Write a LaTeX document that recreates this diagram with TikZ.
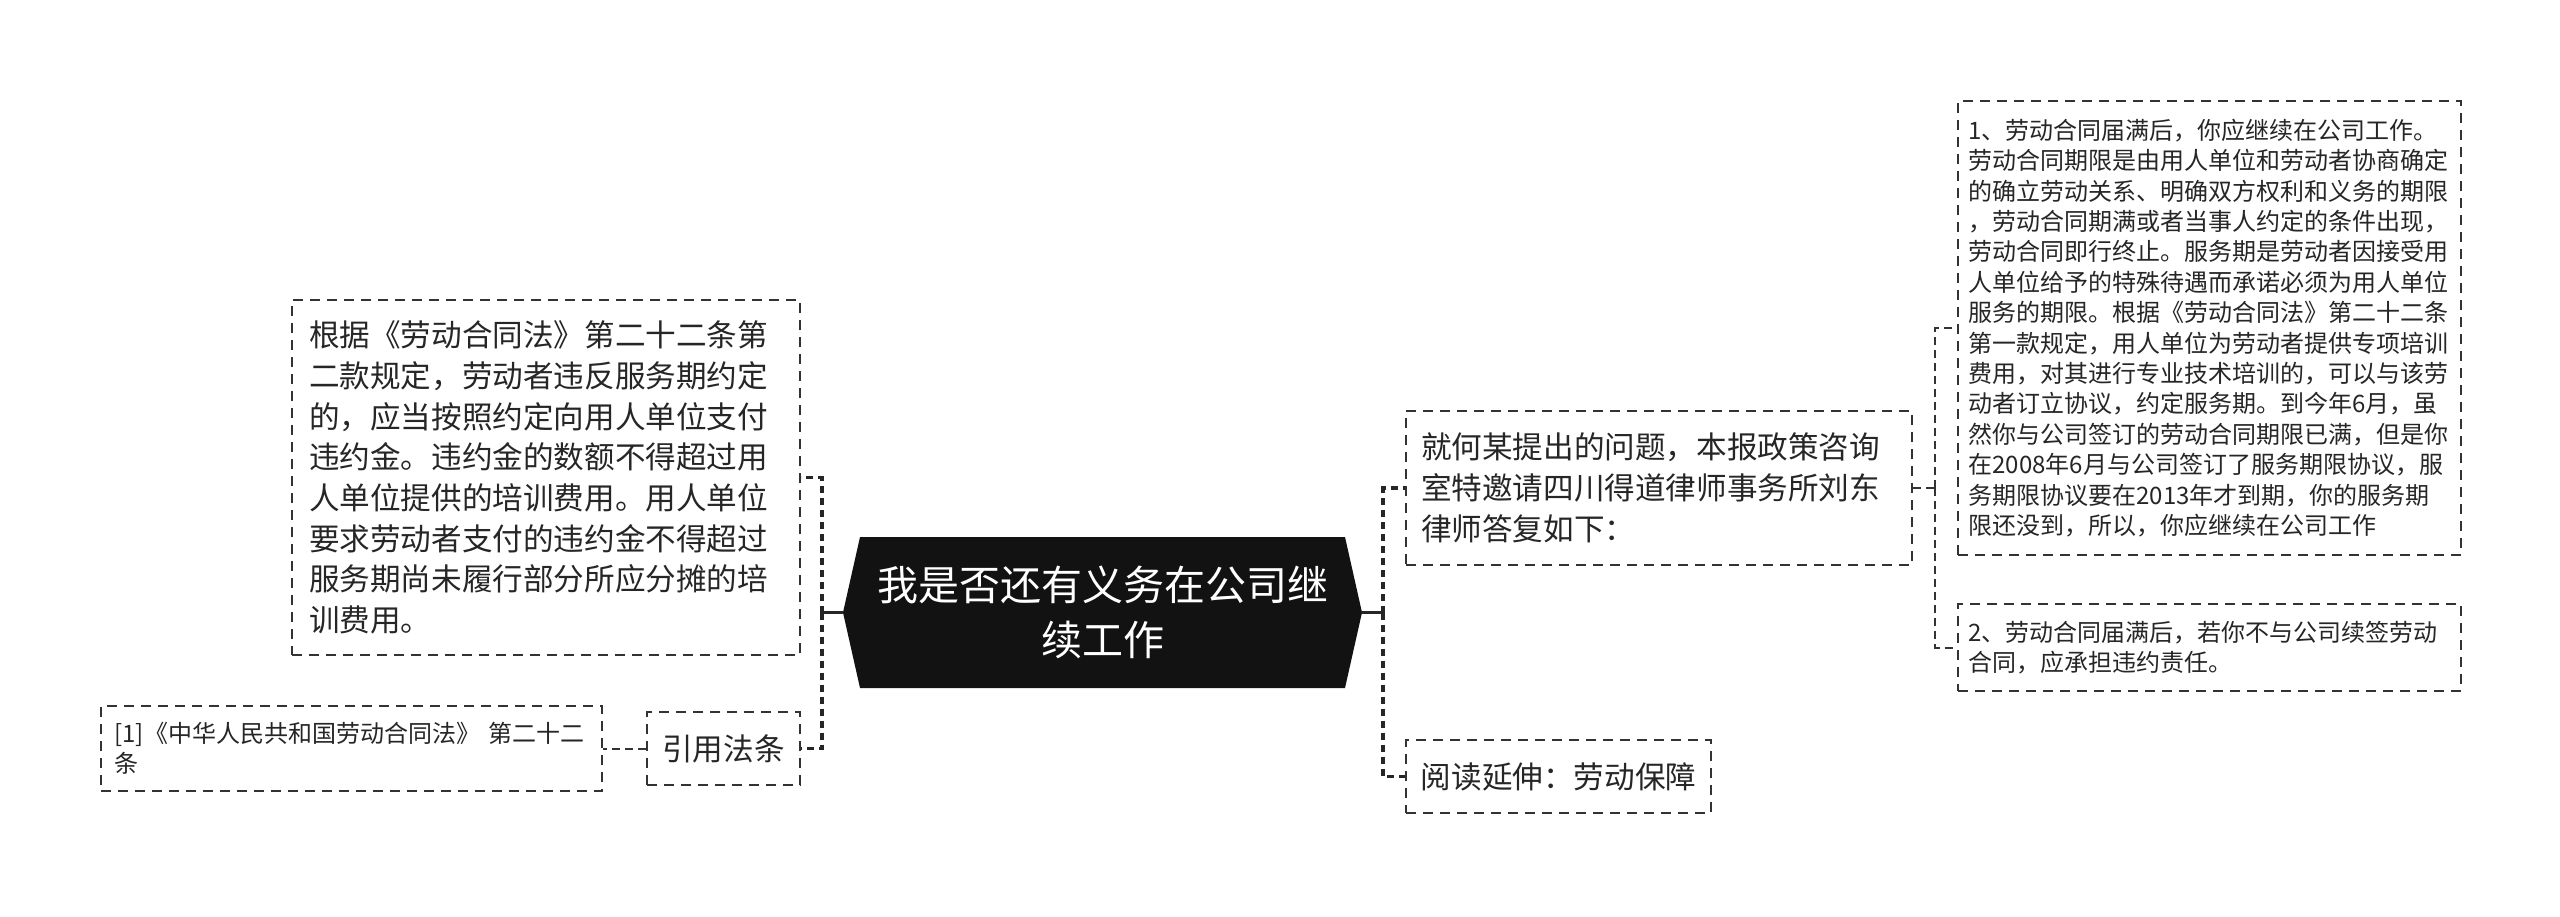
\documentclass[tikz,border=0pt]{standalone}
\usepackage{fontspec}
\setmainfont{Noto Sans CJK SC}
\begin{document}
\begin{tikzpicture}[x=0.5pt,y=-0.5pt,
  box/.style={draw=black!80, line width=1pt, dash pattern=on 5pt off 3.5pt, text=black!85, inner ysep=0pt},
  bigtext/.style={font=\fontsize{15.3}{20.35}\selectfont},
  smalltext/.style={font=\fontsize{12}{15.2}\selectfont},
  mainline/.style={line width=1.7pt, draw=black!85},
  maindash/.style={mainline, dash pattern=on 3.5pt off 2.5pt},
  subdash/.style={line width=1pt, draw=black!80, dash pattern=on 4pt off 2.5pt},
  central/.style={minimum width=259.5pt, minimum height=75.5pt, inner sep=0pt, align=center, text=white,
    font=\fontsize{20.5}{27.5}\selectfont,
    path picture={\fill[black!93]
      (path picture bounding box.west) --
      ([xshift=8.5pt]path picture bounding box.north west) --
      ([xshift=-8.5pt]path picture bounding box.north east) --
      (path picture bounding box.east) --
      ([xshift=-8.5pt]path picture bounding box.south east) --
      ([xshift=8.5pt]path picture bounding box.south west) -- cycle;}}
]
\useasboundingbox[fill=white] (0,0) rectangle (2560,916);

% central
\node[central] (c) at (1102.5,612.5) {我是否还有义务在公司继\\续工作};

% left side
\node[box,bigtext,minimum width=254pt,minimum height=177.5pt,text width=237pt,inner xsep=8.5pt,align=left] (lbox) at (546,477.5)
 {根据《劳动合同法》第二十二条第\\二款规定，劳动者违反服务期约定\\的，应当按照约定向用人单位支付\\违约金。违约金的数额不得超过用\\人单位提供的培训费用。用人单位\\要求劳动者支付的违约金不得超过\\服务期尚未履行部分所应分摊的培\\训费用。};
\node[box,bigtext,minimum width=76.5pt,minimum height=36.5pt,inner xsep=0pt] (cite) at (723.5,748.5) {引用法条};
\node[box,smalltext,minimum width=250.5pt,minimum height=42.5pt,text width=237pt,inner xsep=6.75pt,align=left] (ref) at (351.5,748.5)
 {[1]《中华人民共和国劳动合同法》~第二十二\\条};

% right side
\node[box,bigtext,minimum width=253pt,minimum height=77pt,text width=238pt,inner xsep=7.5pt,align=left] (q) at (1659,488)
 {就何某提出的问题，本报政策咨询\\室特邀请四川得道律师事务所刘东\\律师答复如下：};
\node[box,bigtext,minimum width=152.5pt,minimum height=36.5pt,inner xsep=0pt] (read) at (1558.5,776.5) {阅读延伸：劳动保障};

\node[box,smalltext,minimum width=251.5pt,minimum height=227pt,text width=241pt,inner xsep=5.25pt,align=left] (a) at (2209.5,328)
 {1、劳动合同届满后，你应继续在公司工作。\\劳动合同期限是由用人单位和劳动者协商确定\\的确立劳动关系、明确双方权利和义务的期限\\，劳动合同期满或者当事人约定的条件出现，\\劳动合同即行终止。服务期是劳动者因接受用\\人单位给予的特殊待遇而承诺必须为用人单位\\服务的期限。根据《劳动合同法》第二十二条\\第一款规定，用人单位为劳动者提供专项培训\\费用，对其进行专业技术培训的，可以与该劳\\动者订立协议，约定服务期。到今年6月，虽\\然你与公司签订的劳动合同期限已满，但是你\\在2008年6月与公司签订了服务期限协议，服\\务期限协议要在2013年才到期，你的服务期\\限还没到，所以，你应继续在公司工作};
\node[box,smalltext,minimum width=251.5pt,minimum height=43.5pt,text width=241pt,inner xsep=5.25pt,align=left] (b) at (2209.5,647.5)
 {2、劳动合同届满后，若你不与公司续签劳动\\合同，应承担违约责任。};

% junction coordinates
\coordinate (jl) at (822,612.5);
\coordinate (jr) at (1383,612.5);
\coordinate (j2) at (1935,488);

% connectors
\draw[mainline] (c.west) -- (jl);
\draw[maindash] (jl) |- (lbox.east);
\draw[maindash] (jl) |- (cite.east);
\draw[mainline] (c.east) -- (jr);
\draw[maindash] (jr) |- (q.west);
\draw[maindash] (jr) |- (read.west);
\draw[subdash] (cite.west) -- (ref.east);
\draw[subdash] (q.east) -- (j2);
\draw[subdash] (j2) |- (a.west);
\draw[subdash] (j2) |- (b.west);
\end{tikzpicture}
\end{document}
